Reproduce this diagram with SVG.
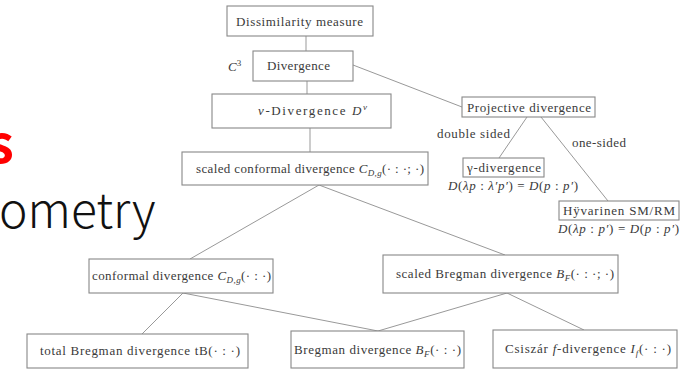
<svg xmlns="http://www.w3.org/2000/svg" width="692" height="371" viewBox="0 0 692 371">
<style>
.box{fill:#fff;stroke:#888;stroke-width:1.1}
.t{font-family:'Liberation Serif','DejaVu Serif',serif;font-size:13px;fill:#3a3a3a}
.i{font-style:italic}
.s{font-size:9px}
.edge{stroke:#999;stroke-width:1;fill:none}
.bg{font-family:'Noto Sans CJK JP','Noto Sans',sans-serif}
</style>
<rect width="692" height="371" fill="#fff"/>
<text class="bg" x="-12" y="163" font-size="52" font-weight="bold" fill="#ff0000">s</text>
<text class="bg" x="-1" y="228" font-size="48" font-weight="300" fill="#111">ometry</text>
<g id="connectors">
<line class="edge" x1="306" y1="36" x2="306" y2="51"/>
<line class="edge" x1="307" y1="81" x2="307" y2="94"/>
<line class="edge" x1="353" y1="65" x2="462" y2="107"/>
<line class="edge" x1="310" y1="128" x2="310" y2="152"/>
<line class="edge" x1="527" y1="117" x2="499" y2="158"/>
<line class="edge" x1="541" y1="117" x2="608" y2="201"/>
<line class="edge" x1="319" y1="185" x2="190" y2="259"/>
<line class="edge" x1="319" y1="185" x2="505" y2="255"/>
<line class="edge" x1="183" y1="293" x2="142" y2="334"/>
<line class="edge" x1="183" y1="293" x2="378" y2="331"/>
<line class="edge" x1="507" y1="293" x2="378" y2="331"/>
<line class="edge" x1="507" y1="293" x2="584" y2="330"/>
</g>
<g id="dissimilarity"><rect class="box" x="227" y="6" width="146" height="30"/><text class="t" x="236" y="26" textLength="127">Dissimilarity measure</text></g>
<g id="c3label"><text class="t" x="228" y="71"><tspan class="i">C</tspan><tspan class="s" dy="-5">3</tspan></text></g>
<g id="divergence"><rect class="box" x="253" y="51" width="100" height="30"/><text class="t" x="267" y="70" textLength="63">Divergence</text></g>
<g id="vdivergence"><rect class="box" x="212" y="94" width="179" height="34"/><text class="t" x="258" y="115" textLength="109"><tspan class="i">v</tspan>-Divergence <tspan class="i">D</tspan><tspan class="s i" dy="-5">v</tspan></text></g>
<g id="projective"><rect class="box" x="462" y="97" width="133" height="20"/><text class="t" x="467" y="112" textLength="124">Projective divergence</text></g>
<g id="lbl-double"><text class="t" x="437" y="138" textLength="73">double sided</text></g>
<g id="lbl-one"><text class="t" x="572" y="147" textLength="54">one-sided</text></g>
<g id="gamma"><rect class="box" x="463" y="158" width="81" height="19"/><text class="t" x="467" y="172" textLength="74">γ-divergence</text><text class="t" x="448" y="190" textLength="130"><tspan class="i">D</tspan>(<tspan class="i">λp</tspan> : <tspan class="i">λ′p′</tspan>) = <tspan class="i">D</tspan>(<tspan class="i">p</tspan> : <tspan class="i">p′</tspan>)</text></g>
<g id="hyvarinen"><rect class="box" x="559" y="201" width="120" height="19"/><text class="t" x="563" y="215" textLength="112">Hÿvarinen SM/RM</text><text class="t" x="558" y="233" textLength="121"><tspan class="i">D</tspan>(<tspan class="i">λp</tspan> : <tspan class="i">p′</tspan>) = <tspan class="i">D</tspan>(<tspan class="i">p</tspan> : <tspan class="i">p′</tspan>)</text></g>
<g id="scaledconformal"><rect class="box" x="182" y="152" width="246" height="33"/><text class="t" x="196" y="173" textLength="228">scaled conformal divergence <tspan class="i">C</tspan><tspan class="s i" dy="3">D,g</tspan><tspan dy="-3">(· : ·; ·)</tspan></text></g>
<g id="conformal"><rect class="box" x="89" y="259" width="184" height="34"/><text class="t" x="92" y="280" textLength="179">conformal divergence <tspan class="i">C</tspan><tspan class="s i" dy="3">D,g</tspan><tspan dy="-3">(· : ·)</tspan></text></g>
<g id="scaledbregman"><rect class="box" x="383" y="255" width="235" height="38"/><text class="t" x="396" y="278" textLength="218">scaled Bregman divergence <tspan class="i">B</tspan><tspan class="s i" dy="3">F</tspan><tspan dy="-3">(· : ·; ·)</tspan></text></g>
<g id="totalbregman"><rect class="box" x="27" y="334" width="221" height="34"/><text class="t" x="40" y="355" textLength="200">total Bregman divergence tB(· : ·)</text></g>
<g id="bregman"><rect class="box" x="291" y="331" width="173" height="37"/><text class="t" x="294" y="354" textLength="167">Bregman divergence <tspan class="i">B</tspan><tspan class="s i" dy="3">F</tspan><tspan dy="-3">(· : ·)</tspan></text></g>
<g id="csiszar"><rect class="box" x="493" y="330" width="184" height="38"/><text class="t" x="505" y="353" textLength="166">Csiszár <tspan class="i">f</tspan>-divergence <tspan class="i">I</tspan><tspan class="s i" dy="3">f</tspan><tspan dy="-3">(· : ·)</tspan></text></g>
</svg>
